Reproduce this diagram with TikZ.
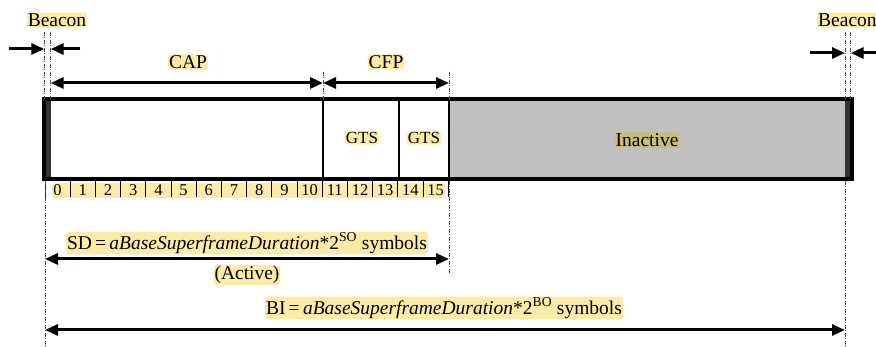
\documentclass[tikz,border=0pt]{standalone}
\usepackage{fontspec}
\setmainfont{Liberation Serif}
\usetikzlibrary{arrows.meta}
\definecolor{hl}{HTML}{FCEBA8}
\definecolor{hlgray}{HTML}{C9BC7C}
\definecolor{inact}{HTML}{C0C0C0}
\definecolor{beaconbar}{HTML}{333333}
\tikzset{
  lab/.style={fill=hl, rounded corners=3pt, inner sep=1pt, font=\fontsize{19.5}{22}\selectfont},
  dimarrow/.style={line width=3pt, {Triangle[length=13pt,width=11pt]}-{Triangle[length=13pt,width=11pt]}},
  onearrow/.style={line width=3pt, -{Triangle[length=13pt,width=11pt]}},
  guide/.style={line width=0.9pt, black!70, dash pattern=on 4pt off 1.5pt on 1pt off 1.5pt},
  framebox/.style={line width=3.2pt},
  inner/.style={line width=2pt},
  tick/.style={line width=0.9pt}
}
\begin{document}
\begin{tikzpicture}[x=1pt,y=-1pt]
\useasboundingbox (0,0) rectangle (876,347);
% key coordinates
\coordinate (fTL) at (44,99);
\coordinate (fBR) at (852,179);
% fills
\fill[inact] (449,99) rectangle (845,179);
\fill[beaconbar] (44,99) rectangle (51,179);
\fill[beaconbar] (845,99) rectangle (852,179);
% inner lines
\draw[inner] (323,99) -- (323,179);
\draw[inner] (399,99) -- (399,179);
\draw[inner] (449,99) -- (449,179);
\draw[framebox] (fTL) rectangle (fBR);
% slot labels
\fill[hl, rounded corners=3pt] (52,183) rectangle (445,198);
\foreach \i in {0,...,16} {
  \coordinate (t\i) at ({45+25.2*\i},181);
  \draw[tick] (t\i) -- ++(0,16);
}
\foreach \i in {0,...,15} {
  \node[font=\fontsize{16.5}{18}\selectfont, inner sep=0pt] (s\i) at ({45+25.2*(\i+0.5)},190) {\i};
}
% beacon guides left
\coordinate (bl1t) at (44.3,32); \coordinate (bl1b) at (44.3,99);
\coordinate (bl2t) at (50.7,32); \coordinate (bl2b) at (50.7,99);
\draw[guide] (bl1t) -- (bl1b);
\draw[guide] (bl2t) -- (bl2b);
\coordinate (al1) at (9,49); \coordinate (al2) at (44.3,49);
\coordinate (al3) at (80,49); \coordinate (al4) at (50.7,49);
\draw[onearrow] (al1) -- (al2);
\draw[onearrow] (al3) -- (al4);
\node[lab] (beaconL) at (57,20) {Beacon};
% beacon guides right
\coordinate (br1t) at (845,32); \coordinate (br1b) at (845,99);
\coordinate (br2t) at (850.7,32); \coordinate (br2b) at (850.7,99);
\draw[guide] (br1t) -- (br1b);
\draw[guide] (br2t) -- (br2b);
\coordinate (ar1) at (810,53); \coordinate (ar2) at (845,53);
\coordinate (ar3) at (878,53); \coordinate (ar4) at (850.7,53);
\draw[onearrow] (ar1) -- (ar2);
\draw[onearrow] (ar3) -- (ar4);
\node[lab, anchor=west] (beaconR) at (817,20) {Beacon};
% CAP / CFP
\coordinate (capL) at (50.7,83); \coordinate (capR) at (323,83);
\coordinate (cfpR) at (449,83);
\draw[guide] (323,72) -- (323,99);
\draw[guide] (449,72) -- (449,99);
\draw[dimarrow] (capL) -- (capR);
\draw[dimarrow] (capR) -- (cfpR);
\node[lab] (cap) at (188,62) {CAP};
\node[lab] (cfp) at (386,62) {CFP};
% slot texts
\node[lab, font=\fontsize{17}{19}\selectfont] (gts1) at (362,138) {GTS};
\node[lab, font=\fontsize{17}{19}\selectfont] (gts2) at (424,138) {GTS};
\node[lab, fill=hlgray] (inactive) at (647,140) {Inactive};
% SD
\coordinate (sdL) at (45,259); \coordinate (sdR) at (449,259);
\draw[guide] (45,181) -- (45,347);
\draw[guide] (449,181) -- (449,273);
\draw[dimarrow] (sdL) -- (sdR);
\node[lab] (sd) at (247,243) {SD\,=\,\textit{aBaseSuperframeDuration}*2\textsuperscript{SO} symbols};
\node[lab] (active) at (247,275) {(Active)};
% BI
\coordinate (biL) at (45,330); \coordinate (biR) at (845,330);
\draw[guide] (845,181) -- (845,347);
\draw[dimarrow] (biL) -- (biR);
\node[lab] (bi) at (444,308) {BI\,=\,\textit{aBaseSuperframeDuration}*2\textsuperscript{BO} symbols};
\end{tikzpicture}
\end{document}
